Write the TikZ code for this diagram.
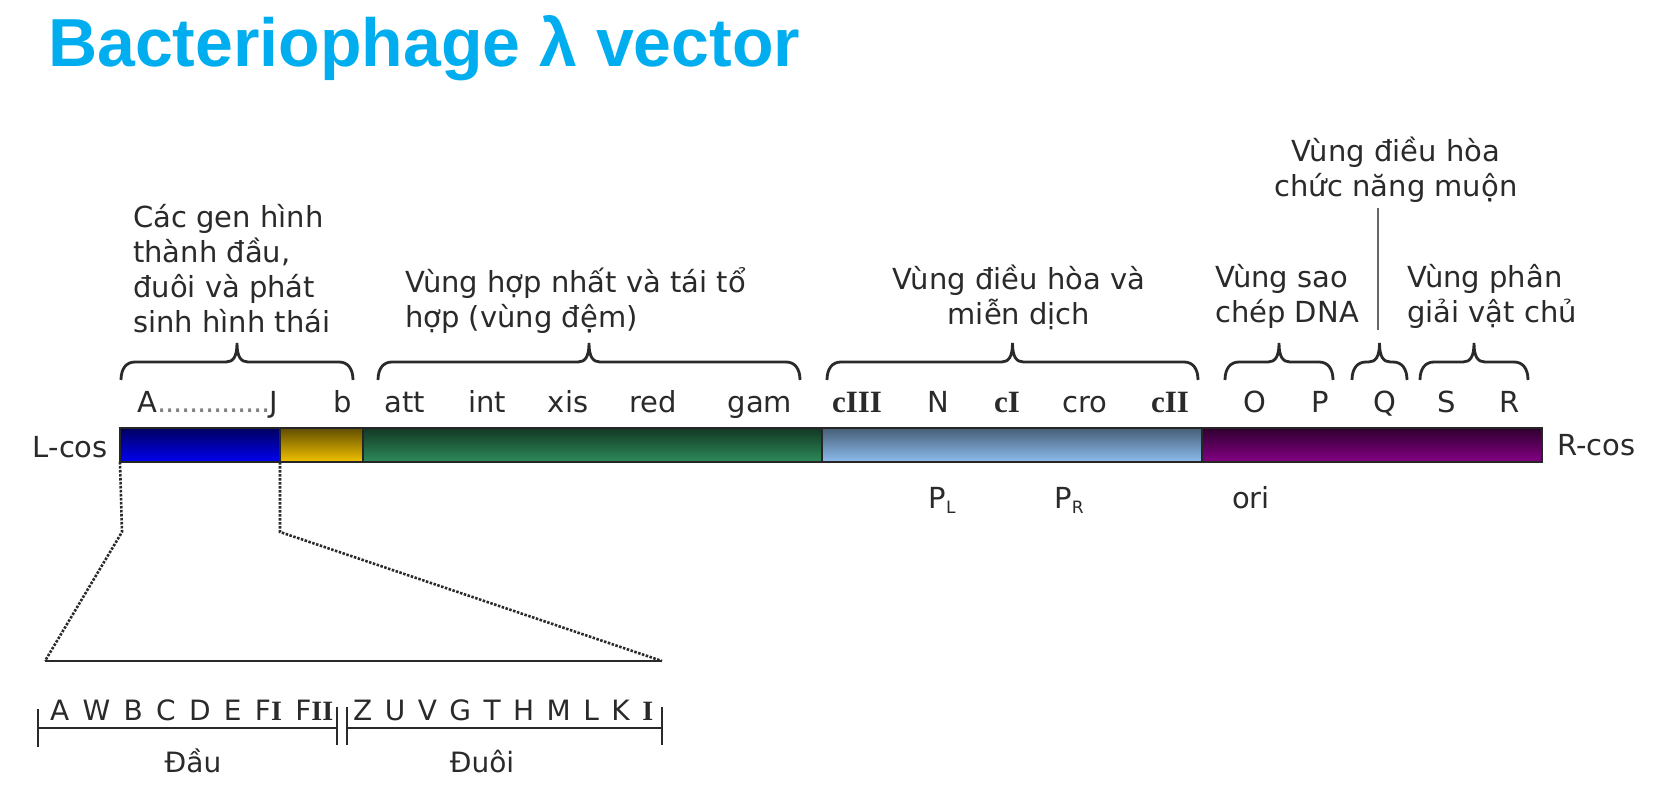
\documentclass[tikz,border=0pt]{standalone}
\usepackage{fontspec}
\setmainfont{DejaVu Sans}
\newfontfamily\titlefont{Liberation Sans}
\newfontfamily\serifnum{Liberation Serif}
\usetikzlibrary{positioning}
\definecolor{TITLECYAN}{HTML}{00AEEF}
\definecolor{TXT}{HTML}{2A2A2A}
\definecolor{SEGBLUE}{HTML}{0000F0}
\definecolor{SEGGOLD}{HTML}{F2C200}
\definecolor{SEGGREEN}{HTML}{2E8B5A}
\definecolor{SEGSKY}{HTML}{8DBDEE}
\definecolor{SEGPURPLE}{HTML}{850085}
\newcommand{\rI}{{\serifnum\bfseries I}}
\newcommand{\genebrace}[2]{%
  \pgfmathsetmacro{\bmid}{(#1+#2)/2}%
  \draw[brace] (#1,380) .. controls (#1,369) and (#1+5,362) .. (#1+14,362)
    -- (\bmid-11,362) .. controls (\bmid-4,362) and (\bmid,357) .. (\bmid,343)
    .. controls (\bmid,357) and (\bmid+4,362) .. (\bmid+11,362)
    -- (#2-14,362) .. controls (#2-5,362) and (#2,369) .. (#2,380);}

\begin{document}
\begin{tikzpicture}[x=1pt, y=-1pt,
    seg/.style={rectangle, draw=black!85, line width=1.8pt, minimum height=34pt,
                inner sep=0, outer sep=0},
    gene/.style={anchor=base, inner sep=0, text=TXT, font=\fontsize{29}{35}\selectfont},
    roman/.style={gene, font=\serifnum\bfseries\fontsize{31}{35}\selectfont},
    region/.style={inner sep=0, text=TXT, text depth=0pt, font=\fontsize{29}{35}\selectfont},
    small/.style={anchor=base, inner sep=0, text=TXT, font=\fontsize{28}{32}\selectfont},
    brace/.style={draw=TXT, line width=2.8pt},
    zoomline/.style={draw=TXT, line width=2.6pt, dash pattern=on 2.5pt off 1.5pt},
    ruler/.style={draw=TXT, line width=2.6pt}
  ]
  \useasboundingbox (0,0) rectangle (1678,786);
  \node[anchor=base west, inner sep=0, text=TITLECYAN,
        font=\titlefont\bfseries\fontsize{68}{80}\selectfont] (title) at (48,67) {Bacteriophage λ vector};

  % genome bar
  \node[seg, minimum width=160pt, top color=SEGBLUE!40!black, bottom color=SEGBLUE, anchor=west] (blue) at (120,445) {};
  \node[seg, minimum width=83pt, top color=SEGGOLD!40!black, bottom color=SEGGOLD, right=0pt of blue] (gold) {};
  \node[seg, minimum width=459pt, top color=SEGGREEN!40!black, bottom color=SEGGREEN, right=0pt of gold] (green) {};
  \node[seg, minimum width=380pt, top color=SEGSKY!50!black, bottom color=SEGSKY, right=0pt of green] (sky) {};
  \node[seg, minimum width=340pt, top color=SEGPURPLE!35!black, bottom color=SEGPURPLE, right=0pt of sky] (purple) {};
  \node[gene, anchor=base east] (lcos) at (108,457) {L-cos};
  \node[gene, anchor=base west] (rcos) at (1557,455) {R-cos};

  % gene names
  \node[gene] (ga) at (208,412) {A\makebox[112pt]{\color{TXT!60}\leaders\hbox to 8pt{\hss.\hss}\hfill}J};
  \node[gene] (gb) at (343,412) {b};
  \node[gene] (att) at (405,412) {att};
  \node[gene] (int) at (487,412) {int};
  \node[gene] (xis) at (568,412) {xis};
  \node[gene] (red) at (653,412) {red};
  \node[gene] (gam) at (760,412) {gam};
  \node[roman] (ciii) at (857,412) {cIII};
  \node[gene] (n) at (938,412) {N};
  \node[roman] (ci) at (1007,412) {cI};
  \node[gene] (cro) at (1085,412) {cro};
  \node[roman] (cii) at (1170,412) {cII};
  \node[gene] (o) at (1255,412) {O};
  \node[gene] (p) at (1320,412) {P};
  \node[gene] (q) at (1385,412) {Q};
  \node[gene] (s) at (1447,412) {S};
  \node[gene] (r) at (1510,412) {R};
  \node[gene] (pl) at (942,508) {P\raisebox{-5pt}{\fontsize{17}{17}\selectfont L}};
  \node[gene] (pr) at (1069,508) {P\raisebox{-5pt}{\fontsize{17}{17}\selectfont R}};
  \node[gene] (ori) at (1251,508) {ori};

  % braces and regions
  \genebrace{121}{353}
  \genebrace{378}{800}
  \genebrace{827}{1198}
  \genebrace{1225}{1333}
  \genebrace{1352}{1407}
  \genebrace{1420}{1528}
  \node[region, anchor=south west, align=left] (morph) at (133,333) {Các gen hình\\thành đầu,\\đuôi và phát\\sinh hình thái};
  \node[region, anchor=south west, align=left] (integ) at (405,328) {Vùng hợp nhất và tái tổ\\hợp (vùng đệm)};
  \node[region, anchor=south, align=center] (immun) at (1019,325) {Vùng điều hòa và\\miễn dịch};
  \node[region, anchor=south west, align=left] (repl) at (1215,323) {Vùng sao\\chép DNA};
  \node[region, anchor=south west, align=left] (lysis) at (1407,323) {Vùng phân\\giải vật chủ};
  \node[region, anchor=south, align=center] (late) at (1396,197) {Vùng điều hòa\\chức năng muộn};
  \coordinate (qtop) at (1378,208);
  \coordinate (qtip) at (1378,330);
  \draw[draw=black!60, line width=2.8pt] (qtop) -- (qtip);

  % head and tail genes
  \coordinate (z1) at (122,532);
  \coordinate (z2) at (280,532);
  \coordinate (zl) at (45,661);
  \coordinate (zr) at (662,661);
  \draw[zoomline] (blue.south west) -- (z1) -- (zl);
  \draw[zoomline] (blue.south east) -- (z2) -- (zr);
  \draw[ruler] (zl) -- (zr);
  \draw[ruler] (38,728) -- (337,728) (347,728) -- (662,728);
  \draw[ruler] (38,709) -- (38,747) (337,707) -- (337,745) (347,707) -- (347,745) (662,707) -- (662,745);
  \node[small, anchor=base west] (headgenes) at (50,720) {\makebox[283pt][s]{A W B C D E F\rI{} F\rI\rI}};
  \node[small, anchor=base west] (tailgenes) at (353,720) {\makebox[300pt][s]{Z U V G T H M L K \rI}};
  \node[small] (head) at (193,772) {Đầu};
  \node[small] (tail) at (482,772) {Đuôi};
\end{tikzpicture}
\end{document}
